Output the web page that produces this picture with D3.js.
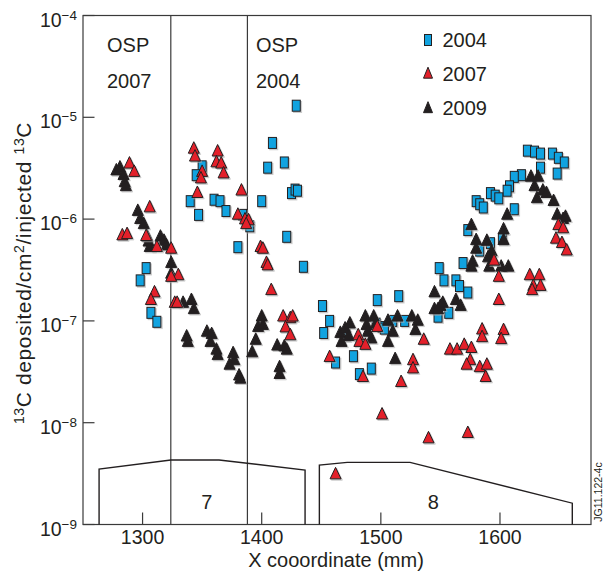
<!DOCTYPE html>
<html><head><meta charset="utf-8">
<script src="https://cdn.jsdelivr.net/npm/d3@7"></script>
<style>
html,body{margin:0;padding:0;background:#fff;}
text{font-family:"Liberation Sans",Arial,Helvetica,sans-serif;fill:#231f20;}
</style></head>
<body>
<svg id="c" width="606" height="575"></svg>
<script>
// ---- data ----
const xTicks = [1300, 1400, 1500, 1600];
const yTickExps = [-9, -8, -7, -6, -5, -4];
const seriesNames = ["2004", "2007", "2009"];

const x2004 = [1350,1345,1340,1347,1360,1365,1370,1384,1390,1380,1405,1400,1303,1298,1307,1312,1429,1409,1419,1425,1428,1430,1421,1435,1451,1457,1452,1462,1497,1515,1477,1482,1492,1501,1503,1496,1510,1520,1471,1557,1548,1623,1629,1634,1644,1649,1654,1634,1648,1618,1612,1608,1606,1592,1596,1599,1580,1583,1586,1612,1573,1602,1592,1583,1569,1549,1553,1563,1566,1573];
const y2004 = [3.3e-6,2.7e-6,1.5e-6,1.1e-6,1.55e-6,1.5e-6,1.2e-6,1.1e-6,8.5e-7,5.3e-7,3.2e-6,1.5e-6,3.3e-7,2.5e-7,1.2e-7,9.8e-8,1.3e-5,5.6e-6,3.6e-6,1.8e-6,1.95e-6,1.9e-6,6.7e-7,3.4e-7,1.4e-7,1.0e-7,7.6e-8,3.9e-8,1.6e-7,1.75e-7,4.5e-8,3.0e-8,3.4e-8,8.7e-8,8.4e-8,9.4e-8,1.0e-7,1.0e-7,7.2e-8,1.2e-7,1.1e-7,4.7e-6,4.6e-6,4.4e-6,4.4e-6,4.0e-6,3.6e-6,3.2e-6,2.8e-6,2.7e-6,2.6e-6,2.1e-6,1.9e-6,1.8e-6,1.7e-6,1.6e-6,1.5e-6,1.4e-6,1.3e-6,1.25e-6,7.8e-7,6.4e-7,5.8e-7,4.9e-7,3.7e-7,3.3e-7,2.5e-7,2.5e-7,2.2e-7,1.9e-7];

const x2007 = [1289,1293,1306,1283,1287,1303,1312,1324,1330,1324,1310,1307,1327,1329,1343,1344,1350,1349,1346,1363,1362,1366,1368,1383,1380,1386,1389,1387,1399,1401,1404,1405,1408,1418,1424,1426,1420,1424,1457,1497,1481,1482,1487,1485,1517,1527,1527,1536,1501,1540,1462,1573,1649,1653,1647,1652,1656,1595,1599,1625,1633,1628,1627,1634,1599,1585,1585,1603,1601,1558,1564,1570,1576,1575,1572,1583,1589,1588];
const y2007 = [3.5e-6,2.9e-6,1.3e-6,6.9e-7,7.1e-7,6.8e-7,5.3e-7,5.1e-7,2.8e-7,2.7e-7,1.9e-7,1.6e-7,1.5e-7,1.5e-7,4.9e-6,4.1e-6,2.9e-6,2.5e-6,1.8e-6,4.6e-6,3.6e-6,3.5e-6,2.8e-6,1.9e-6,1.1e-6,9.9e-7,9.7e-7,8.9e-7,5.3e-7,5.1e-7,3.7e-7,3.5e-7,2.0e-7,1.1e-7,1.06e-7,1.1e-7,8.6e-8,7.2e-8,4.4e-8,8.7e-8,7.2e-8,6.2e-8,5.8e-8,2.8e-8,2.5e-8,4.1e-8,3.4e-8,6.5e-8,1.2e-8,7.0e-9,3.1e-9,7.9e-9,8.7e-7,8.1e-7,6.4e-7,5.8e-7,4.9e-7,3.9e-7,2.7e-7,2.8e-7,2.8e-7,2.2e-7,2.0e-7,2.2e-7,1.6e-7,8.2e-8,6.9e-8,8.1e-8,6.6e-8,5.2e-8,5.2e-8,5.8e-8,5.4e-8,4.1e-8,3.7e-8,3.5e-8,3.7e-8,2.8e-8];

const x2009 = [1278,1281,1284,1285,1286,1296,1298,1301,1304,1305,1306,1315,1318,1320,1324,1324,1334,1341,1343,1337,1338,1354,1358,1357,1362,1363,1376,1377,1373,1381,1382,1400,1397,1395,1392,1401,1413,1419,1421,1415,1415,1466,1470,1474,1473,1467,1487,1488,1489,1492,1494,1496,1506,1514,1510,1506,1526,1531,1529,1512,1545,1545,1550,1552,1548,1626,1632,1629,1631,1636,1639,1645,1648,1653,1655,1606,1576,1580,1580,1589,1593,1590,1594,1603,1603,1577,1576,1591,1601,1607,1563,1567];
const y2009 = [3.0e-6,3.2e-6,2.7e-6,2.3e-6,2.1e-6,1.2e-6,1.0e-6,8.9e-7,6.7e-7,6.0e-7,5.3e-7,6.7e-7,6.1e-7,5.5e-7,3.7e-7,2.9e-7,1.5e-7,1.6e-7,1.3e-7,7.0e-8,6.2e-8,7.8e-8,7.4e-8,6.2e-8,5.2e-8,4.6e-8,4.8e-8,4.1e-8,3.7e-8,2.9e-8,2.7e-8,1.1e-7,8.7e-8,6.5e-8,4.9e-8,9.1e-8,5.7e-8,5.6e-8,5.2e-8,3.5e-8,3.0e-8,7.6e-8,8.4e-8,9.4e-8,7.1e-8,6.2e-8,1.1e-7,9.1e-8,7.8e-8,6.7e-8,1.1e-7,9.4e-8,1.0e-7,1.1e-7,7.8e-8,6.2e-8,1.1e-7,1.0e-7,8.1e-8,4.2e-8,1.9e-7,1.3e-7,1.4e-7,1.5e-7,1.3e-7,2.6e-6,2.6e-6,2.1e-6,1.6e-6,1.9e-6,1.8e-6,1.5e-6,1.1e-6,1.0e-6,1.05e-6,1.1e-6,8.7e-7,6.2e-7,5.1e-7,6.1e-7,4.8e-7,4.2e-7,3.9e-7,7.9e-7,6.2e-7,3.8e-7,3.4e-7,3.4e-7,3.4e-7,3.4e-7,1.6e-7,1.4e-7];

// OSP boundaries (mm) and labels
const ospX = [1323.7, 1388];
const ospLabels = [["OSP","2007"],["OSP","2004"]];
// tile outlines (mm, value)
const tile7X = [1263.5,1263.5,1323.8,1364.2,1436.4,1436.4];
const tile7Y = [1e-9,3.5e-9,4.3e-9,4.3e-9,3.43e-9,1e-9];
const tile8X = [1448.4,1448.4,1471.8,1524.5,1660.7,1660.7];
const tile8Y = [1e-9,3.84e-9,4.08e-9,4.08e-9,1.62e-9,1e-9];
const tileLabels = ["7","8"];
const tileLabelX = [1354, 1544];

// ---- chart ----
const svg = d3.select("#c");
const L = 83, R = 591, T = 15.5, B = 524.5;
const x = d3.scaleLinear().domain([1250, 1676.4]).range([L, R]);
const y = d3.scaleLog().domain([1e-9, 1e-4]).range([B, T]);

const colors = {"2004":"#11a3e0","2007":"#e3202a","2009":"#231f20"};
const stroke = "#231f20";

// frame
svg.append("rect").attr("x",L).attr("y",T).attr("width",R-L).attr("height",B-T)
  .attr("fill","none").attr("stroke","#3a3a3a").attr("stroke-width",1.2);

// OSP vertical lines
svg.selectAll(".osp").data(ospX).enter().append("line")
  .attr("x1",d=>x(d)).attr("x2",d=>x(d)).attr("y1",T).attr("y2",B)
  .attr("stroke","#3a3a3a").attr("stroke-width",1.2);

// OSP labels
ospLabels.forEach((lab,i)=>{
  const tx = i===0 ? x(1250)+24 : x(ospX[1]) + 8.5;
  svg.append("text").attr("x",tx).attr("y",52).attr("font-size",20).text(lab[0]);
  svg.append("text").attr("x",tx).attr("y",87.5).attr("font-size",20).text(lab[1]);
});

// tile outlines
const line = d3.line().x(d=>x(d[0])).y(d=>y(d[1]));
[[tile7X,tile7Y],[tile8X,tile8Y]].forEach(([xs,ys])=>{
  svg.append("path").attr("d",line(xs.map((v,i)=>[v,ys[i]])))
    .attr("fill","none").attr("stroke","#231f20").attr("stroke-width",1.4);
});
tileLabels.forEach((t,i)=>{
  svg.append("text").attr("x",x(tileLabelX[i])).attr("y",508.5).attr("text-anchor","middle")
    .attr("font-size",20).text(t);
});

// axes ticks (inward)
const xAxis = svg.append("g");
xTicks.forEach(t=>{
  xAxis.append("line").attr("x1",x(t)).attr("x2",x(t)).attr("y1",B).attr("y2",B-12)
    .attr("stroke","#3a3a3a").attr("stroke-width",1.2);
  xAxis.append("text").attr("x",x(t)).attr("y",543.5).attr("text-anchor","middle")
    .attr("font-size",19.5).text(t);
});
const yAxis = svg.append("g");
yTickExps.forEach(e=>{
  const v = Math.pow(10,e);
  yAxis.append("line").attr("x1",L).attr("x2",L+11.5).attr("y1",y(v)).attr("y2",y(v))
    .attr("stroke","#3a3a3a").attr("stroke-width",1.2);
  const tx = yAxis.append("text").attr("x",77).attr("y",y(v)+11).attr("text-anchor","end")
    .attr("font-size",19.5);
  tx.append("tspan").text("10");
  tx.append("tspan").attr("dy",-7).attr("font-size",13.5).text("\u2212"+Math.abs(e));
});

// axis titles
svg.append("text").attr("x",336).attr("y",567).attr("text-anchor","middle")
  .attr("font-size",20).text("X cooordinate (mm)");
const yl = svg.append("text").attr("transform","translate(31,273) rotate(-90)")
  .attr("text-anchor","middle").attr("font-size",21).attr("letter-spacing",0.6);
yl.append("tspan").attr("font-size",14).attr("dy",-7.5).text("13");
yl.append("tspan").attr("dy",7.5).text("C deposited/cm");
yl.append("tspan").attr("font-size",14).attr("dy",-7.5).text("2");
yl.append("tspan").attr("dy",7.5).text("/injected ");
yl.append("tspan").attr("font-size",14).attr("dy",-7.5).text("13");
yl.append("tspan").attr("dy",7.5).text("C");

svg.append("text").attr("transform","translate(602,492) rotate(-90)")
  .attr("text-anchor","middle").attr("font-size",10.5).text("JG11.122-4c");

// markers
const triPath = (w,h)=>`M0,${-h*0.62}L${w/2},${h*0.38}L${-w/2},${h*0.38}Z`;
function drawSeries(xs, ys, name, shape){
  const data = xs.map((v,i)=>[v,ys[i]]).filter(d=>d[1]!=null);
  const g = svg.append("g");
  const shadow = g.append("g").attr("transform","translate(1.3,1.3)");
  const main = g.append("g");
  [shadow, main].forEach((grp,k)=>{
    const sel = grp.selectAll("p").data(data).enter();
    if(shape==="square"){
      sel.append("rect").attr("x",d=>x(d[0])-4).attr("y",d=>y(d[1])-5.5)
        .attr("width",8).attr("height",11)
        .attr("fill",k===0?"#aaaaaa":colors[name])
        .attr("stroke",k===0?"#aaaaaa":stroke).attr("stroke-width",1)
        .attr("opacity",k===0?0.6:1);
    } else {
      sel.append("path").attr("d",triPath(11,11.5))
        .attr("transform",d=>`translate(${x(d[0])},${y(d[1])})`)
        .attr("fill",k===0?"#aaaaaa":colors[name])
        .attr("stroke",k===0?"#aaaaaa":stroke).attr("stroke-width",1)
        .attr("opacity",k===0?0.6:1);
    }
  });
}
drawSeries(x2004, y2004, "2004", "square");
drawSeries(x2009, y2009, "2009", "tri");
drawSeries(x2007, y2007, "2007", "tri");

// legend
const legY = [40, 74, 108.5];
seriesNames.forEach((n,i)=>{
  const g = svg.append("g").attr("transform",`translate(428,${legY[i]})`);
  if(i===0){
    g.append("rect").attr("x",-3.5).attr("y",-5.5).attr("width",7).attr("height",11)
      .attr("fill",colors[n]).attr("stroke",stroke).attr("stroke-width",1);
  } else {
    g.append("path").attr("d",triPath(9,11)).attr("fill",colors[n])
      .attr("stroke",stroke).attr("stroke-width",1);
  }
  svg.append("text").attr("x",442.5).attr("y",legY[i]+6.5).attr("font-size",20).text(n);
});
</script>
</body></html>
